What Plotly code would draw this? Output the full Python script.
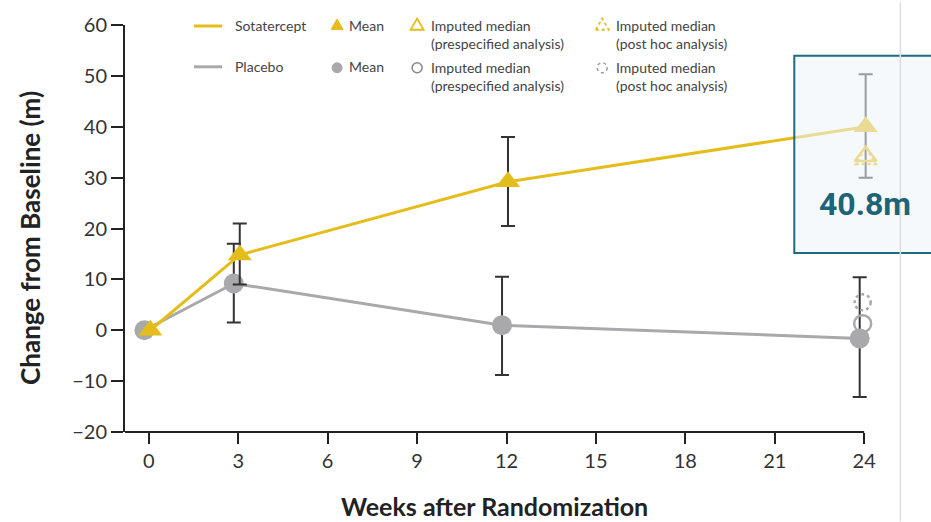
import plotly.graph_objects as go

# ---------------- data ----------------
weeks = [0, 3, 12, 24]
x_ticks = [0, 3, 6, 9, 12, 15, 18, 21, 24]
y_ticks = [-20, -10, 0, 10, 20, 30, 40, 50, 60]

sota_mean = [0, 14.8, 29.2, 40.0]
sota_upper = [None, 21.0, 38.0, 50.3]
sota_lower = [None, 9.0, 20.5, 30.0]

placebo_mean = [0, 9.2, 1.0, -1.6]
placebo_upper = [None, 17.0, 10.5, 10.4]
placebo_lower = [None, 1.5, -8.8, -13.1]

median_week = 24
sota_median_pre = 34.2
sota_median_post = 33.8
placebo_median_pre = 1.3
placebo_median_post = 5.5

highlight_text = "40.8m"

# ---------------- styles ----------------
GOLD = "#E5BD1B"
GRAY = "#A9A9AB"
ERR = "#333333"
TEAL = "#1E6C80"
FONT = "Lato"

X_MIN, X_MAX, X_AXIS_END = -0.8, 24.8, 24

W, H = 931, 522
L, T, B = 125, 23, 522 - 432
PX_PER_WEEK = (864 - 149) / 24.0
PW = (X_MAX - X_MIN) * PX_PER_WEEK
R = W - L - PW
PH = H - T - B

SOTA_DODGE = 0.05
PLAC_DODGE = -0.15


def px(xp):
    return (xp - L) / PW


def py(yp):
    return (H - B - yp) / PH


def err(mean, upper, lower):
    plus = [None if u is None else u - m for m, u in zip(mean, upper)]
    minus = [None if l is None else m - l for m, l in zip(mean, lower)]
    return plus, minus


fig = go.Figure()

pp, pm = err(placebo_mean, placebo_upper, placebo_lower)
fig.add_trace(go.Scatter(
    x=[w + PLAC_DODGE for w in weeks], y=placebo_mean, mode="lines+markers",
    line=dict(color=GRAY, width=3),
    marker=dict(symbol="circle", size=20, color=GRAY),
    error_y=dict(type="data", symmetric=False, array=pp, arrayminus=pm,
                 color=ERR, thickness=2, width=7),
    cliponaxis=False, showlegend=False))

sp, sm = err(sota_mean, sota_upper, sota_lower)
fig.add_trace(go.Scatter(
    x=[w + SOTA_DODGE for w in weeks], y=sota_mean, mode="lines+markers",
    line=dict(color=GOLD, width=3),
    marker=dict(symbol="triangle-up", size=21, color=GOLD),
    error_y=dict(type="data", symmetric=False, array=sp, arrayminus=sm,
                 color=ERR, thickness=2, width=7),
    cliponaxis=False, showlegend=False))

# imputed medians (prespecified) - open markers
fig.add_trace(go.Scatter(
    x=[median_week + PLAC_DODGE + 0.1], y=[placebo_median_pre], mode="markers",
    marker=dict(symbol="circle-open", size=17, color=GRAY, line=dict(width=2.5)),
    cliponaxis=False, showlegend=False))
fig.add_trace(go.Scatter(
    x=[median_week + SOTA_DODGE], y=[sota_median_pre], mode="markers",
    marker=dict(symbol="triangle-up-open", size=19, color=GOLD, line=dict(width=2.5)),
    cliponaxis=False, showlegend=False))

shapes = []

# x axis base line (ends at the last tick)
shapes.append(dict(type="line", xref="x", yref="paper", x0=X_MIN, x1=X_AXIS_END,
                   y0=0, y1=0, line=dict(color="#222222", width=2), layer="above"))


def tri_path(s):
    h = s * 0.87
    return f"M{-s/2},{-h/3} L{s/2},{-h/3} L0,{2*h/3} Z"


# imputed medians (post hoc) - dotted outlines, anchored on data axes
shapes.append(dict(type="circle", xref="x", yref="y", xsizemode="pixel", ysizemode="pixel",
                   xanchor=median_week + PLAC_DODGE + 0.1, yanchor=placebo_median_post,
                   x0=-8, x1=8, y0=-8, y1=8,
                   line=dict(color=GRAY, width=2.5, dash="dot"), layer="above"))
shapes.append(dict(type="path", xref="x", yref="y", xsizemode="pixel", ysizemode="pixel",
                   xanchor=median_week + SOTA_DODGE, yanchor=sota_median_post,
                   path=tri_path(20),
                   line=dict(color=GOLD, width=2.5, dash="dot"), layer="above"))

# highlight box
shapes.append(dict(type="rect", xref="paper", yref="paper",
                   x0=px(794), x1=px(945), y0=py(252), y1=py(54),
                   fillcolor="rgba(236,244,249,0.55)",
                   line=dict(color=TEAL, width=2), layer="above"))
# right-side separator line
shapes.append(dict(type="line", xref="paper", yref="paper",
                   x0=px(900), x1=px(900), y0=py(H), y1=py(0),
                   line=dict(color="#DDDDDD", width=1.5), layer="above"))

# ---------------- legend (custom) ----------------
LEG_ROW = [24, 65]
for yrow, col in zip(LEG_ROW, [GOLD, GRAY]):
    shapes.append(dict(type="line", xref="paper", yref="paper",
                       x0=px(194), x1=px(222), y0=py(yrow), y1=py(yrow),
                       line=dict(color=col, width=3)))

shapes.append(dict(type="path", xref="paper", yref="paper", xsizemode="pixel", ysizemode="pixel",
                   xanchor=px(337), yanchor=py(24), path=tri_path(12),
                   fillcolor=GOLD, line=dict(color=GOLD, width=1)))
shapes.append(dict(type="path", xref="paper", yref="paper", xsizemode="pixel", ysizemode="pixel",
                   xanchor=px(417), yanchor=py(24), path=tri_path(13),
                   line=dict(color=GOLD, width=1.8)))
shapes.append(dict(type="path", xref="paper", yref="paper", xsizemode="pixel", ysizemode="pixel",
                   xanchor=px(602), yanchor=py(24), path=tri_path(13),
                   line=dict(color=GOLD, width=1.8, dash="dot")))
shapes.append(dict(type="circle", xref="paper", yref="paper", xsizemode="pixel", ysizemode="pixel",
                   xanchor=px(337), yanchor=py(66), x0=-5, x1=5, y0=-5, y1=5,
                   fillcolor=GRAY, line=dict(color=GRAY, width=1)))
shapes.append(dict(type="circle", xref="paper", yref="paper", xsizemode="pixel", ysizemode="pixel",
                   xanchor=px(417), yanchor=py(66), x0=-5, x1=5, y0=-5, y1=5,
                   line=dict(color="#888888", width=1.5)))
shapes.append(dict(type="circle", xref="paper", yref="paper", xsizemode="pixel", ysizemode="pixel",
                   xanchor=px(602), yanchor=py(66), x0=-5, x1=5, y0=-5, y1=5,
                   line=dict(color="#999999", width=1.5, dash="dot")))

legend_texts = [
    (233, 24, "Sotatercept"), (347, 24, "Mean"),
    (429, 24, "Imputed median"), (429, 42, "(prespecified analysis)"),
    (614, 24, "Imputed median"), (614, 42, "(post hoc analysis)"),
    (233, 65, "Placebo"), (347, 65, "Mean"),
    (429, 66, "Imputed median"), (429, 84, "(prespecified analysis)"),
    (614, 66, "Imputed median"), (614, 84, "(post hoc analysis)"),
]

annotations = []
for xp, yp, t in legend_texts:
    annotations.append(dict(x=px(xp), y=py(yp), xref="paper", yref="paper",
                            text=t, showarrow=False, xanchor="left", yanchor="middle",
                            font=dict(family=FONT, size=14, color="#444444")))

annotations.append(dict(x=px(865), y=py(203), xref="paper", yref="paper",
                        text=f"<b>{highlight_text}</b>", showarrow=False,
                        xanchor="center", yanchor="middle",
                        font=dict(family="Roboto", size=32, color="#1D6478")))

annotations.append(dict(x=px(494), y=py(506), xref="paper", yref="paper",
                        text="<b>Weeks after Randomization</b>", showarrow=False,
                        xanchor="center", yanchor="middle",
                        font=dict(family=FONT, size=25, color="#222222")))
annotations.append(dict(x=px(30), y=py(237), xref="paper", yref="paper",
                        text="<b>Change from Baseline (m)</b>", showarrow=False,
                        textangle=-90, xanchor="center", yanchor="middle",
                        font=dict(family=FONT, size=26, color="#222222")))

fig.update_layout(
    width=W, height=H,
    margin=dict(l=L, r=R, t=T, b=B, pad=0),
    paper_bgcolor="white", plot_bgcolor="white",
    shapes=shapes, annotations=annotations,
    xaxis=dict(range=[X_MIN, X_MAX], tickmode="array", tickvals=x_ticks,
               ticks="outside", ticklen=11, tickwidth=2, tickcolor="#222222",
               showline=False, showgrid=False, zeroline=False,
               tickfont=dict(family=FONT, size=20, color="#333333")),
    yaxis=dict(range=[-20, 60], tickmode="array", tickvals=y_ticks,
               ticks="outside", ticklen=12, tickwidth=2, tickcolor="#222222",
               showline=True, linecolor="#222222", linewidth=2,
               showgrid=False, zeroline=False,
               tickfont=dict(family=FONT, size=20, color="#333333")),
)

fig.write_html("out.html")
